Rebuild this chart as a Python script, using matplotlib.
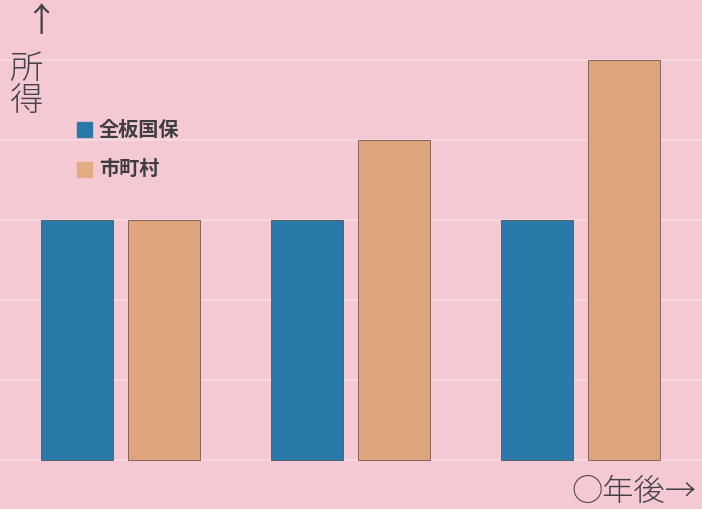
import matplotlib.pyplot as plt
import numpy as np

plt.rcParams['font.family'] = ['Noto Sans CJK JP', 'DejaVu Sans']

# data
groups = [0, 1, 2]
zenban = [3, 3, 3]        # 全板国保
shichoson = [3, 4, 5]     # 市町村
series_names = ['全板国保', '市町村']
gridlines = [0, 1, 2, 3, 4, 5]

bg = '#f5c9d3'
blue = '#2a7aa9'
tan = '#dea57c'

fig = plt.figure(figsize=(7.02, 5.09), dpi=100, facecolor=bg)
ax = fig.add_axes([0, 0, 1, 1], facecolor=bg)

x = np.array(groups)
w = 0.313
off = 0.191

for g in gridlines:
    ax.axhline(g, color='#f9dce2', lw=1.2, zorder=0)

ax.bar(x - off, zenban, w, color=blue, edgecolor='#56606e', linewidth=0.7, zorder=2)
ax.bar(x + off, shichoson, w, color=tan, edgecolor='#86625a', linewidth=0.7, zorder=2)

ax.set_xlim(-0.524, 2.528)
ax.set_ylim(-0.6125, 5.75)
ax.axis('off')

# legend drawn by hand (figure coords)
fig.patches.append(plt.Rectangle((77/702, 1 - 137/509), 15/702, 15/509,
                                 transform=fig.transFigure, color=blue, zorder=3))
fig.patches.append(plt.Rectangle((77/702, 1 - 177/509), 15/702, 15/509,
                                 transform=fig.transFigure, color='#e5ac84', zorder=3))
fig.text(99/702, 1 - 129/509, series_names[0], fontsize=14.5, fontweight='bold',
         color='#3e3e3e', va='center', ha='left')
fig.text(99/702, 1 - 168/509, series_names[1], fontsize=14.5, fontweight='bold',
         color='#3e3e3e', va='center', ha='left')

# axis labels
fig.text(41/702, 1 - 22/509, '↑', fontsize=24, color='#444444', ha='center', va='center')
fig.text(26/702, 1 - 86/509, '所\n得', fontsize=24, color='#444444', ha='center',
         va='center', linespacing=0.92, fontweight='light')
fig.text(634/702, 1 - 492/509, '○年後→', fontsize=22.5, color='#444444', ha='center',
         va='center', fontweight='light')

fig.savefig('out.png', dpi=100, facecolor=bg)
